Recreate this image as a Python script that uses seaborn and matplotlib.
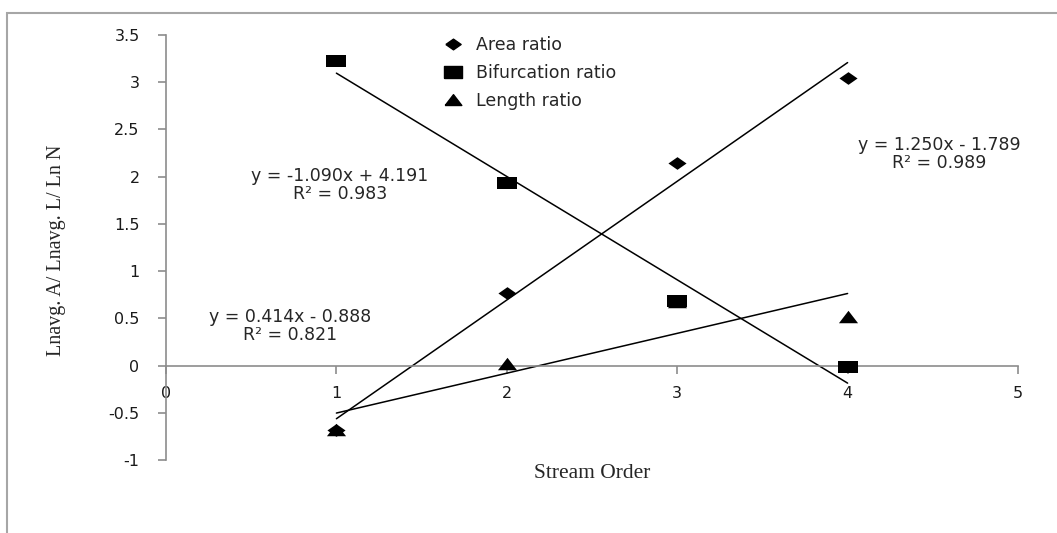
import matplotlib
matplotlib.use("Agg")
import matplotlib.pyplot as plt
import seaborn as sns
import numpy as np
import pandas as pd
from matplotlib.patches import Rectangle
from matplotlib.lines import Line2D

sns.set_theme(style="white")
plt.rcParams['font.family'] = ['DejaVu Sans']

stream_order = [1, 2, 3, 4]
area_ratio = [-0.68, 0.77, 2.15, 3.05]
bifurcation_ratio = [3.22, 1.93, 0.68, -0.01]
length_ratio = [-0.68, 0.02, 0.67, 0.51]

series_names = ["Area ratio", "Bifurcation ratio", "Length ratio"]
equations = ["y = 1.250x - 1.789", "y = -1.090x + 4.191", "y = 0.414x - 0.888"]
r2_labels = ["R² = 0.989", "R² = 0.983", "R² = 0.821"]
x_ticks = [0, 1, 2, 3, 4, 5]
y_ticks = [-1, -0.5, 0, 0.5, 1, 1.5, 2, 2.5, 3, 3.5]
y_tick_labels = ["-1", "-0.5", "0", "0.5", "1", "1.5", "2", "2.5", "3", "3.5"]

fig = plt.figure(figsize=(10.57, 5.33), dpi=100)
ax = fig.add_axes([166/1057, 73/533, (1018-166)/1057, (460-35)/533])

# horizontally stretched marker shapes (as in the original)
diamond = [(-1, 0), (0, 0.7), (1, 0), (0, -0.7), (-1, 0)]
rect = [(-1, -0.62), (1, -0.62), (1, 0.62), (-1, 0.62), (-1, -0.62)]
tri = [(-1, -0.6), (1, -0.6), (0, 0.7), (-1, -0.6)]
markers = [diamond, rect, tri]
sizes = [170, 200, 190]
values = [area_ratio, bifurcation_ratio, length_ratio]

for name, vals, m, s in zip(series_names, values, markers, sizes):
    df = pd.DataFrame({"x": stream_order, "y": vals})
    sns.regplot(data=df, x="x", y="y", ax=ax, ci=None, scatter=False,
                truncate=True, line_kws=dict(color="black", lw=1.1))
    sns.scatterplot(data=df, x="x", y="y", ax=ax, marker=m, s=s,
                    color="black", edgecolor="black", linewidth=0, zorder=5)

ax.set_xlim(0, 5)
ax.set_ylim(-1, 3.5)
ax.set_xticks(x_ticks)
ax.set_yticks(y_ticks)
ax.set_yticklabels(y_tick_labels)

for sp in ["top", "right"]:
    ax.spines[sp].set_visible(False)
ax.spines["left"].set_color("#8c8c8c")
ax.spines["bottom"].set_color("#8c8c8c")
ax.spines["left"].set_linewidth(1.2)
ax.spines["bottom"].set_linewidth(1.2)
ax.spines["bottom"].set_position(("data", 0))
ax.tick_params(axis="both", direction="out", length=6, width=1.2,
               color="#8c8c8c", labelsize=11.5, labelcolor="#1a1a1a")
ax.tick_params(axis="x", pad=9)
ax.tick_params(axis="y", pad=13)
ax.tick_params(left=True, bottom=True)
ax.set_xlabel("")
ax.set_ylabel("")

# equations
fs_eq = 12.5
ax.text(4.54, 2.34, equations[0], ha="center", va="center", fontsize=fs_eq)
ax.text(4.54, 2.15, r2_labels[0], ha="center", va="center", fontsize=fs_eq)
ax.text(1.02, 2.01, equations[1], ha="center", va="center", fontsize=fs_eq)
ax.text(1.02, 1.82, r2_labels[1], ha="center", va="center", fontsize=fs_eq)
ax.text(0.73, 0.51, equations[2], ha="center", va="center", fontsize=fs_eq)
ax.text(0.73, 0.32, r2_labels[2], ha="center", va="center", fontsize=fs_eq)

# axis labels
fig.text(592/1057, 1 - 474/533, "Stream Order", ha="center", va="center",
         fontsize=15.5, family="Liberation Serif")
fig.text(57/1057, 1 - 250/533, "Lnavg. A/ Lnavg. L/ Ln N", ha="center", va="center",
         rotation=90, fontsize=14.5, family="Liberation Serif")

# legend
handles = [Line2D([], [], marker=m, color="black", linestyle="none",
                  markersize=ms) for m, ms in zip(markers, [11, 13, 12])]
fig.legend(handles, series_names, loc="upper left",
           bbox_to_anchor=(427/1057, 1 - 20/533), frameon=False,
           fontsize=12.5, labelspacing=0.58, handletextpad=0.75, handlelength=1.2)

# outer chart border
fig.patches.append(Rectangle((7/1057, -0.2), 1.2, (533-13)/533 + 0.2,
                             transform=fig.transFigure, fill=False,
                             edgecolor="#a6a6a6", linewidth=1.5))

fig.savefig("out.png", dpi=100)
